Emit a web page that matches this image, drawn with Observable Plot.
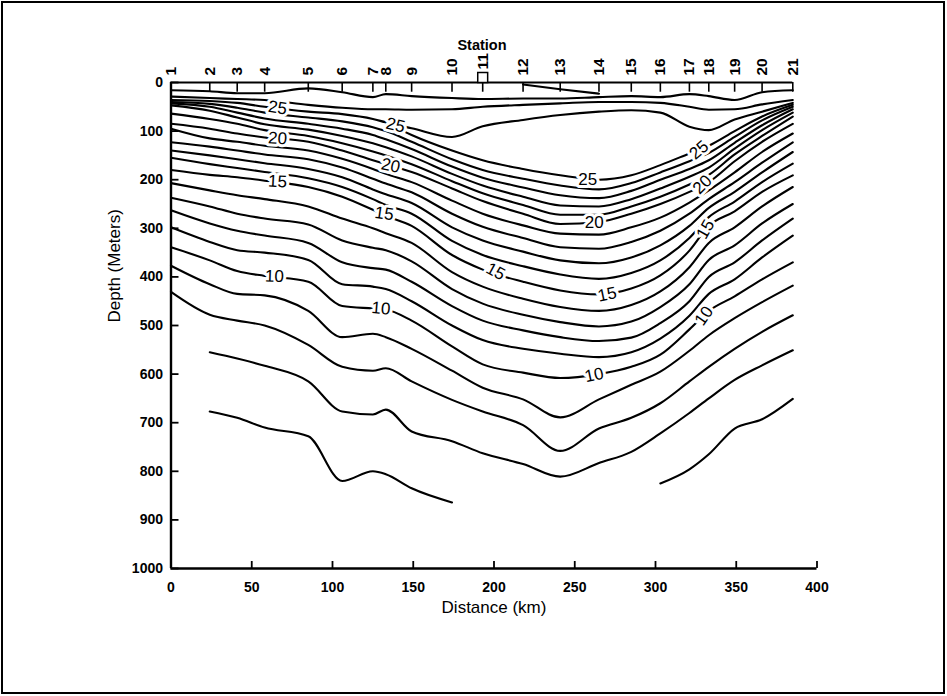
<!DOCTYPE html>
<html>
<head>
<meta charset="utf-8">
<script src="https://cdn.jsdelivr.net/npm/d3@7"></script>
<script src="https://cdn.jsdelivr.net/npm/@observablehq/plot@0.6"></script>
<style>
  html, body { margin: 0; padding: 0; background: #fff; }
  #frame { position: absolute; left: 1px; top: 1px; width: 944px; height: 693px; box-sizing: border-box; border: 2px solid #000; pointer-events: none; }
  #chart { position: absolute; left: 0; top: 0; }
  #chart svg { display: block; }
</style>
</head>
<body>
<div id="chart"></div>
<div id="frame"></div>
<script>
// Station positions (km) and names
const stationKm = [0, 24, 41, 58, 85, 106, 125, 133, 149, 174, 193, 218, 241, 265, 285, 303, 321, 333, 349, 366, 385];
const stationNames = ["1","2","3","4","5","6","7","8","9","10","11","12","13","14","15","16","17","18","19","20","21"];

// Axis ticks
const xTicks = [0, 50, 100, 150, 200, 250, 300, 350, 400];
const yTicks = [0, 100, 200, 300, 400, 500, 600, 700, 800, 900, 1000];

// Isotherm depths (m) at each station; null = isotherm absent there
const t6   = [null, 677, 690, 710, 728, 820, 800, 806, 835, 864, null, null, null, null, null, 825, 796, 765, 712, 693, 651];
const t7   = [null, 555, 568, 583, 615, 677, 683, 673, 718, 738, 763, 785, 811, 783, 760, 722, 680, 650, 612, 582, 551];
const t8   = [431, 478, 490, 500, 540, 585, 593, 588, 615, 653, 677, 705, 758, 712, 690, 660, 615, 585, 548, 513, 479];
const t9   = [377, 415, 435, 438, 470, 524, 517, 524, 548, 593, 628, 652, 689, 652, 622, 595, 552, 520, 485, 452, 418];
const t10  = [339, 366, 388, 398, 410, 460, 465, 467, 490, 543, 580, 597, 608, 600, 585, 560, 508, 470, 440, 405, 370];
const t11  = [298, 328, 345, 350, 365, 415, 420, 425, 450, 500, 530, 548, 558, 565, 555, 527, 480, 435, 405, 360, 315];
const t12  = [263, 290, 305, 315, 330, 370, 382, 385, 410, 460, 490, 510, 524, 532, 525, 495, 450, 400, 370, 325, 280];
const t13  = [237, 255, 270, 280, 292, 325, 340, 345, 368, 425, 455, 478, 493, 502, 492, 462, 415, 365, 335, 290, 250];
const t14  = [207, 222, 232, 240, 255, 280, 300, 310, 330, 390, 420, 445, 462, 470, 458, 430, 380, 330, 298, 255, 215];
const t15  = [180, 190, 195, 202, 215, 235, 262, 274, 295, 355, 385, 410, 428, 436, 424, 397, 346, 295, 265, 225, 191];
const t16  = [155, 168, 176, 184, 197, 215, 240, 252, 270, 326, 355, 378, 395, 404, 392, 366, 320, 277, 245, 205, 167];
const t17  = [140, 150, 158, 166, 178, 195, 220, 230, 248, 298, 325, 348, 366, 372, 360, 335, 295, 258, 225, 185, 143];
const t18  = [123, 132, 140, 148, 158, 175, 198, 208, 226, 270, 297, 320, 339, 342, 328, 305, 270, 240, 205, 165, 123];
const t19  = [95, 115, 122, 130, 140, 157, 178, 188, 205, 243, 270, 294, 311, 313, 298, 278, 247, 222, 185, 143, 105];
const t20  = [85, 95, 105, 113, 122, 140, 160, 168, 184, 218, 244, 270, 291, 287, 270, 250, 225, 205, 162, 122, 85];
const t21  = [64, 75, 85, 98, 110, 125, 142, 150, 168, 203, 228, 252, 272, 272, 255, 235, 210, 190, 148, 110, 70];
const t22  = [47, 58, 72, 86, 97, 110, 125, 133, 152, 188, 212, 235, 253, 255, 240, 218, 194, 175, 136, 98, 62];
const t23  = [43, 50, 62, 74, 85, 95, 108, 117, 137, 173, 196, 216, 232, 238, 223, 200, 178, 160, 124, 88, 55];
const t24  = [40, 44, 52, 62, 72, 80, 92, 100, 122, 158, 180, 198, 212, 220, 207, 185, 162, 145, 112, 78, 50];
const t25a = [36, 38, 42, 50, 60, 65, 75, 82, 94, 112, 90, 77, 67, 60, 57, 62, 91, 98, 76, 60, 42];
const t25b = [null, null, null, null, null, null, null, 82, 108, 140, 160, 178, 191, 200, 191, 170, 146, 130, 100, 70, 46];
const t26  = [29, 32, 34, 36, 46, 52, 55, 55, 56, 55, 50, 46, 43, 40, 40, 42, 50, 56, 55, 45, 36];
const t27  = [16, 18, 22, 22, 12, 20, 30, 24, 28, 32, 34, 33, 33, 30, 28, 30, 24, 28, 36, 20, 16];
const t28  = [null, null, null, null, null, null, null, null, null, null, null, 4, 14, 23, null, null, null, null, null, null, null];

// Contour labels: [km, depth, text, rotation, italic]
const labelKm    = [66, 66, 66, 64, 139, 136, 132, 130, 201, 258, 262, 270, 262, 327, 329, 331, 330];
const labelDepth = [52, 115, 204, 399, 88, 171, 270, 465, 389, 199, 288, 436, 602, 139, 210, 302, 480];
const labelText  = ["25","20","15","10","25","20","15","10","15","25","20","15","10","25","20","15","10"];
const labelRot   = [8, 4, 3, 2, 14, 12, 8, 5, 28, 0, 0, -12, -12, -40, -45, -60, -55];
const labelItal  = [true, true, true, true, true, true, true, true, false, false, false, false, false, false, false, false, false];

const isotherms = [["6", t6], ["7", t7], ["8", t8], ["9", t9], ["10", t10], ["11", t11], ["12", t12],
  ["13", t13], ["14", t14], ["15", t15], ["16", t16], ["17", t17], ["18", t18], ["19", t19], ["20", t20],
  ["21", t21], ["22", t22], ["23", t23], ["24", t24], ["25a", t25a], ["25b", t25b], ["26", t26], ["27", t27], ["28", t28]];

const rows = isotherms.flatMap(([name, arr]) =>
  arr.map((d, i) => ({name, km: stationKm[i], depth: d == null ? NaN : d})));

const labels = labelText.map((t, i) => ({km: labelKm[i], depth: labelDepth[i], text: t, rot: labelRot[i], ital: labelItal[i]}));
const stations = stationKm.map((k, i) => ({km: k, name: stationNames[i]}));

const font = "Liberation Sans, Arial, Helvetica, sans-serif";

const plot = Plot.plot({
  width: 947,
  height: 696,
  marginLeft: 170.5,
  marginRight: 130.5,
  marginTop: 82,
  marginBottom: 128,
  style: {fontFamily: font, fontSize: "14px", color: "#000", background: "#fff"},
  x: {domain: [0, 400]},
  y: {domain: [0, 1000], reverse: true},
  marks: [
    Plot.line(rows, {x: "km", y: "depth", z: "name", curve: "monotone-x", stroke: "#000", strokeWidth: 2.1}),
    // axes lines
    Plot.ruleX([0], {stroke: "#000", strokeWidth: 2.4}),
    Plot.ruleY([1000], {x1: 0, x2: 400, stroke: "#000", strokeWidth: 2.4}),
    Plot.ruleY([0], {x1: stationKm[0], x2: stationKm[stationKm.length - 1], stroke: "#000", strokeWidth: 2.2}),
    // station ticks
    Plot.ruleX(stationKm, {y1: 0, y2: 20, stroke: "#000", strokeWidth: 1.6}),
    Plot.dot(stations.filter(d => d.name === "11"), {x: "km", y: 0, symbol: "square", r: 5.6, dy: -5, fill: "#fff", stroke: "#000", strokeWidth: 1.5}),
    Plot.text(stations.filter(d => d.name !== "11"), {x: "km", y: 0, text: "name", rotate: -90, textAnchor: "start", lineAnchor: "middle", dy: -7, fontSize: 15.5, fontWeight: "bold"}),
    Plot.text(stations.filter(d => d.name === "11"), {x: "km", y: 0, text: "name", rotate: -90, textAnchor: "start", lineAnchor: "middle", dy: -13, fontSize: 15.5, fontWeight: "bold"}),
    // contour labels
    Plot.text(labels, {x: "km", y: "depth", text: "text", rotate: "rot", fontSize: 17,
      fontStyle: d => d.ital ? "italic" : "normal",
      fill: "#000", stroke: "#fff", strokeWidth: 6, paintOrder: "stroke"}),
    // axes
    Plot.axisX({anchor: "bottom", ticks: xTicks, tickFormat: d => String(d), tickSize: -7, tickPadding: 21, label: null, strokeWidth: 1.8, fontSize: 14, fontWeight: "bold"}),
    Plot.axisY({anchor: "left", ticks: yTicks, tickFormat: d => String(d), tickSize: -8, tickPadding: 16, label: null, strokeWidth: 1.8, fontSize: 14, fontWeight: "bold"}),
    // axis titles
    Plot.text(["Depth (Meters)"], {frameAnchor: "left", dx: -56, dy: -3, rotate: -90, fontSize: 17}),
    Plot.text(["Distance (km)"], {frameAnchor: "bottom", dy: 44, fontSize: 17}),
    Plot.text(["Station"], {frameAnchor: "top", dx: -12, dy: -43, fontSize: 14.5, fontWeight: "bold"})
  ]
});

document.getElementById("chart").appendChild(plot);
</script>
</body>
</html>
